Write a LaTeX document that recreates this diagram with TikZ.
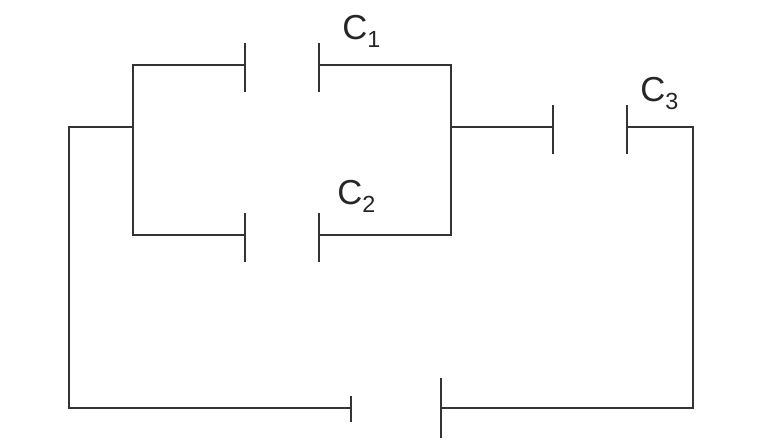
\documentclass[tikz,border=0pt]{standalone}
\usepackage{fontspec}
\setmainfont{Liberation Sans}
\tikzset{wire/.style={draw=black!80,line width=0.95pt,line cap=rect},
lab/.style={inner sep=0pt,anchor=base west,font=\fontsize{26}{28}\selectfont,text=black!85}}
\newcommand{\subdigit}[1]{\raisebox{-6pt}{\fontsize{17.5}{20}\selectfont #1}}
\begin{document}
\begin{tikzpicture}[x=0.75pt,y=-0.75pt]
\useasboundingbox (0,0) rectangle (776,444);
\coordinate (a) at (69,127);
\coordinate (b) at (133,127);
\coordinate (c) at (133,65);
\coordinate (d) at (133,235);
\coordinate (e) at (451,127);
\coordinate (f) at (451,65);
\coordinate (g) at (451,235);
\coordinate (h) at (693,127);
\coordinate (i) at (693,408);
\coordinate (j) at (69,408);
\coordinate (c1l) at (245,65);
\coordinate (c1lt) at (245,44);
\coordinate (c1lb) at (245,91);
\coordinate (c1r) at (319,65);
\coordinate (c1rt) at (319,44);
\coordinate (c1rb) at (319,91);
\coordinate (c2l) at (245,235);
\coordinate (c2lt) at (245,214);
\coordinate (c2lb) at (245,261);
\coordinate (c2r) at (319,235);
\coordinate (c2rt) at (319,214);
\coordinate (c2rb) at (319,261);
\coordinate (c3l) at (553,127);
\coordinate (c3lt) at (553,106);
\coordinate (c3lb) at (553,153);
\coordinate (c3r) at (627,127);
\coordinate (c3rt) at (627,106);
\coordinate (c3rb) at (627,153);
\coordinate (vl) at (351,408);
\coordinate (vlt) at (351,397);
\coordinate (vlb) at (351,421);
\coordinate (vr) at (441,408);
\coordinate (vrt) at (441,379);
\coordinate (vrb) at (441,437);
\draw[wire] (c) -- (d);
\draw[wire] (f) -- (g);
\draw[wire] (c1lt) -- (c1lb);
\draw[wire] (c1rt) -- (c1rb);
\draw[wire] (c) -- (c1l);
\draw[wire] (c1r) -- (f);
\draw[wire] (c2lt) -- (c2lb);
\draw[wire] (c2rt) -- (c2rb);
\draw[wire] (d) -- (c2l);
\draw[wire] (c2r) -- (g);
\draw[wire] (e) -- (c3l);
\draw[wire] (c3lt) -- (c3lb);
\draw[wire] (c3rt) -- (c3rb);
\draw[wire] (c3r) -- (h) -- (i) -- (vr);
\draw[wire] (vrt) -- (vrb);
\draw[wire] (vlt) -- (vlb);
\draw[wire] (vl) -- (j) -- (a) -- (b);
\node[lab] (c1) at (342,39.5) {C\subdigit{1}};
\node[lab] (c2) at (337,204.5) {C\subdigit{2}};
\node[lab] (c3) at (640,101.5) {C\subdigit{3}};
\end{tikzpicture}
\end{document}
